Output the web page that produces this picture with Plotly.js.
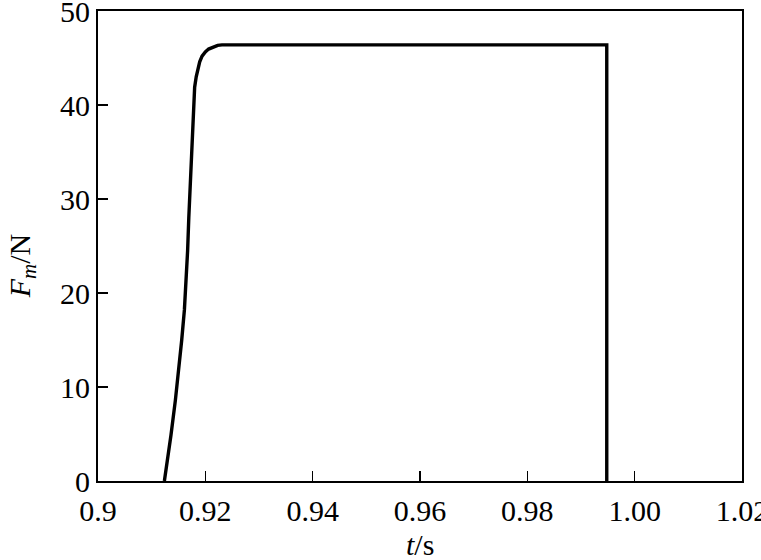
<!DOCTYPE html>
<html>
<head>
<meta charset="utf-8">
<script src="https://cdn.plot.ly/plotly-3.0.1.min.js"></script>
<style>html,body{margin:0;padding:0;background:#fff;}#chart{width:761px;height:560px;}</style>
</head>
<body>
<div id="chart"></div>
<script>
// time (s)
const tValues = [0.91237, 0.9130, 0.9136, 0.91442, 0.9150, 0.9156, 0.91610, 0.91640, 0.9167, 0.91692, 0.9172, 0.9174, 0.91764, 0.9178, 0.91801, 0.9183, 0.91857, 0.91895, 0.91939, 0.9200, 0.92061, 0.9215, 0.9223, 0.9231, 0.9600, 0.9948, 0.9948];
// force Fm (N)
const fValues = [0, 2.4, 4.9, 8.6, 11.6, 15.0, 18.2, 20.8, 24.5, 28.0, 32.0, 35.3, 38.0, 40.0, 41.9, 43.0, 43.8, 44.6, 45.2, 45.65, 45.95, 46.2, 46.35, 46.4, 46.4, 46.4, 0];
const xTickVals = [0.9, 0.92, 0.94, 0.96, 0.98, 1.00, 1.02];
const xTickText = ['0.9', '0.92', '0.94', '0.96', '0.98', '1.00', '1.02'];
const yTickVals = [0, 10, 20, 30, 40, 50];
const xTitle = '<i>t</i>/s';
const yTitle = '<i>F</i><sub><i>m</i></sub>/N';

const font = {family: '"Liberation Serif", "Times New Roman", serif', size: 30, color: '#000'};

Plotly.newPlot('chart', [{
  x: tValues, y: fValues, type: 'scatter', mode: 'lines',
  line: {color: '#000', width: 3.4}, hoverinfo: 'skip'
}], {
  width: 761, height: 560,
  margin: {l: 98, r: 19, t: 11, b: 79},
  paper_bgcolor: '#fff', plot_bgcolor: '#fff',
  showlegend: false,
  font: font,
  xaxis: {
    range: [0.9, 1.02], tickvals: xTickVals, ticktext: xTickText,
    ticks: 'inside', ticklen: 10, tickwidth: 1.5, tickcolor: '#000',
    showline: true, linecolor: '#000', linewidth: 2, mirror: true,
    showgrid: false, zeroline: false, ticklabeloverflow: 'allow',
    ticklabelstandoff: 2,
    tickfont: font
  },
  yaxis: {
    range: [0, 50], tickvals: yTickVals,
    ticks: 'inside', ticklen: 10, tickwidth: 1.5, tickcolor: '#000',
    showline: true, linecolor: '#000', linewidth: 2, mirror: true,
    showgrid: false, zeroline: false, ticklabeloverflow: 'allow',
    tickfont: font
  },
  annotations: [{
    text: yTitle, xref: 'paper', yref: 'paper', x: -0.118, y: 0.457,
    xanchor: 'center', yanchor: 'middle', textangle: -90, showarrow: false, font: font
  }, {
    text: xTitle, xref: 'paper', yref: 'paper', x: 0.5, y: -0.136,
    xanchor: 'center', yanchor: 'middle', showarrow: false, font: font
  }]
}, {displayModeBar: false, staticPlot: true});
</script>
</body>
</html>
